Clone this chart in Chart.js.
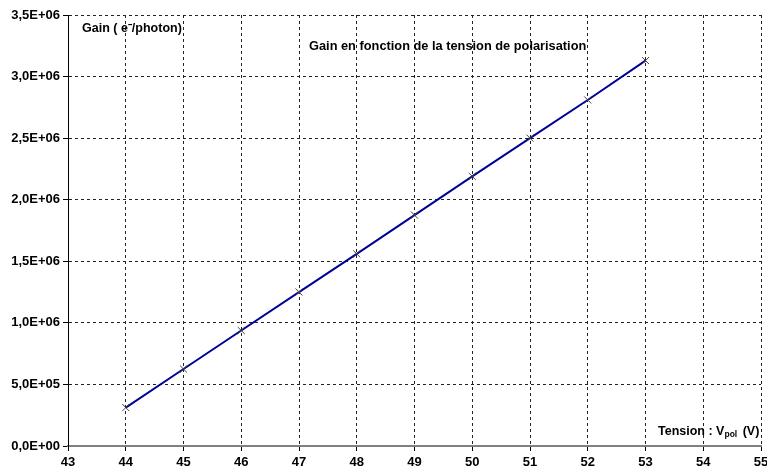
<!DOCTYPE html>
<html>
<head>
<meta charset="utf-8">
<script src="https://cdn.jsdelivr.net/npm/chart.js@4"></script>
<style>
  body { margin: 0; background: #fff; }
  #wrap { width: 767px; height: 470px; }
</style>
</head>
<body>
<div id="wrap"><canvas id="gainChart" width="767" height="470"></canvas></div>
<script>
// Tension de polarisation (V) et gain mesuré
const tensions = [44, 45, 46, 47, 48, 49, 50, 51, 52, 53];
const gains = [3.12e5, 6.25e5, 9.38e5, 1.25e6, 1.56e6, 1.875e6, 2.19e6, 2.50e6, 2.81e6, 3.13e6];
const xMin = 43, xMax = 55;
const yMin = 0, yMax = 3.5e6, yStep = 5e5;

const FONT = "'Liberation Sans', Arial, sans-serif";

// format Excel: 3,5E+06
function sciLabel(v) {
    let [m, e] = v.toExponential(1).split('e');
    const sign = e[0] === '-' ? '-' : '+';
    e = e.replace(/[+-]/, '').padStart(2, '0');
    return m.replace('.', ',') + 'E' + sign + e;
}

// textes dans la zone du graphe
const labelsPlugin = {
    id: 'labels',
    afterDraw(chart) {
        const ctx = chart.ctx;
        ctx.save();
        ctx.fillStyle = '#000';
        ctx.textBaseline = 'middle';
        ctx.font = 'bold 12.5px ' + FONT;
        ctx.fillText('Gain ( e⁻/photon)', 82, 29);
        ctx.font = 'bold 12.8px ' + FONT;
        ctx.fillText('Gain en fonction de la tension de polarisation', 309, 46);

        ctx.font = 'bold 12.5px ' + FONT;
        let x = 658;
        const y = 432;
        ctx.fillText('Tension : V', x, y);
        x += ctx.measureText('Tension : V').width;
        ctx.font = 'bold 8.5px ' + FONT;
        ctx.fillText('pol', x, y + 3);
        x += ctx.measureText('pol').width;
        ctx.font = 'bold 12.5px ' + FONT;
        ctx.fillText(' (V)', x + 2, y);
        ctx.restore();
    }
};

const gridOpts = {
    color: '#222',
    tickBorderDash: [],
    tickColor: '#000',
    tickLength: 5,
    lineWidth: 1
};

new Chart(document.getElementById('gainChart'), {
    type: 'scatter',
    data: {
        datasets: [{
            data: tensions.map((t, i) => ({ x: t, y: gains[i] })),
            showLine: true,
            borderColor: '#000099',
            borderWidth: 2,
            pointStyle: 'crossRot',
            pointRadius: 5,
            pointBorderColor: '#444',
            pointBorderWidth: 1,
            pointBackgroundColor: '#444'
        }]
    },
    options: {
        responsive: false,
        animation: false,
        layout: { padding: { left: 0, right: 5, top: 15, bottom: 0 } },
        plugins: { legend: { display: false }, tooltip: { enabled: false } },
        scales: {
            x: {
                type: 'linear',
                min: xMin, max: xMax,
                ticks: {
                    stepSize: 1,
                    color: '#000',
                    font: { family: FONT, size: 13, weight: 'bold' },
                    padding: 4,
                    maxRotation: 0
                },
                grid: gridOpts,
                border: { color: '#808080', width: 2, dash: [3, 3] },
                afterFit(scale) {
                    scale.height = 24;
                    scale.paddingLeft = 0;
                    scale.paddingRight = 0;
                }
            },
            y: {
                min: yMin, max: yMax,
                ticks: {
                    stepSize: yStep,
                    color: '#000',
                    font: { family: FONT, size: 13, weight: 'bold' },
                    padding: 3,
                    callback: v => sciLabel(v)
                },
                grid: gridOpts,
                border: { color: '#000', width: 1, dash: [3, 3] },
                afterFit(scale) {
                    scale.width = 68;
                    scale.paddingTop = 0;
                    scale.paddingBottom = 0;
                }
            }
        }
    },
    plugins: [labelsPlugin]
});
</script>
</body>
</html>
